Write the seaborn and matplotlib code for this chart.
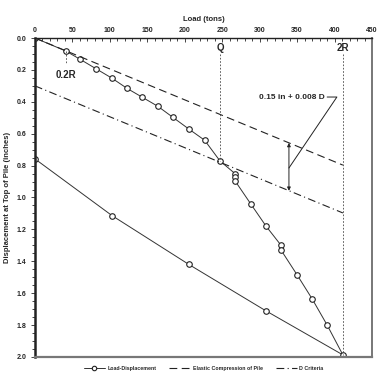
import numpy as np
import pandas as pd
import seaborn as sns
import matplotlib
matplotlib.use("Agg")
import matplotlib.pyplot as plt
from matplotlib.ticker import MultipleLocator

# load test data (tons, inches)
load = [0, 41, 60.5, 82, 102.5, 123, 143.5, 164, 184, 205.5, 226.5, 247,
        267, 267, 267, 288, 308.5, 328.5, 328.5, 350, 370, 390, 411,
        308, 205.5, 103, 0]
disp = [0, 0.081, 0.134, 0.194, 0.251, 0.316, 0.372, 0.428, 0.497, 0.571, 0.641, 0.771,
        0.85, 0.87, 0.895, 1.04, 1.18, 1.30, 1.33, 1.486, 1.636, 1.80, 1.987,
        1.71, 1.42, 1.114, 0.758]

elastic_load = [0, 411]
elastic_disp = [0, 0.797]
offset_load = [0, 411]
offset_disp = [0.30, 1.097]

Q_load = 247
R2_load = 411
R02_load = 41

df = pd.DataFrame({"load": load, "disp": disp})

sns.set_style("white")
plt.rcParams["font.family"] = ["Liberation Sans", "DejaVu Sans"]
plt.rcParams["font.weight"] = "bold"

fig = plt.figure(figsize=(3.84, 3.88), dpi=100)
ax = fig.add_axes([0.091, 0.080, 0.878, 0.822])

sns.lineplot(data=df, x="load", y="disp", sort=False, estimator=None, ax=ax,
             color="#333333", lw=0.7, marker="o", markersize=4,
             markerfacecolor="white", markeredgecolor="#222222", markeredgewidth=0.8,
             label="Load-Displacement")
sns.lineplot(x=elastic_load, y=elastic_disp, ax=ax, color="#222222", lw=0.8,
             linestyle=(0, (7, 4)), label="Elastic Compression of Pile")
sns.lineplot(x=offset_load, y=offset_disp, ax=ax, color="#222222", lw=0.8,
             linestyle=(0, (7, 3, 1, 3)), label="D Criteria")

# reference verticals
ax.plot([Q_load, Q_load], [0.10, 0.771], color="#444444", lw=0.6, ls=(0, (2, 2)))
ax.plot([R2_load, R2_load], [0.10, 1.987], color="#444444", lw=0.6, ls=(0, (2, 2)))
ax.plot([R02_load, R02_load], [0.081, 0.16], color="#444444", lw=0.6, ls=(0, (2, 2)))
ax.text(Q_load, 0.06, "Q", ha="center", va="center", fontsize=7, fontweight="bold")
ax.text(R2_load, 0.06, "2R", ha="center", va="center", fontsize=7, fontweight="bold")
ax.text(R02_load, 0.23, "0.2R", ha="center", va="center", fontsize=7, fontweight="bold")

# offset annotation
ax.annotate("", xy=(339, 0.658), xytext=(339, 0.958),
            arrowprops=dict(arrowstyle="<|-|>", color="#222222", lw=0.7,
                            mutation_scale=5, shrinkA=0, shrinkB=0))
ax.plot([390, 403, 339], [0.37, 0.37, 0.815], color="#222222", lw=0.7)
ax.text(387, 0.37, "0.15 in + 0.008 D", ha="right", va="center", fontsize=6,
        fontweight="bold")

ax.set_xlim(0, 450)
ax.set_ylim(2.0, 0.0)
ax.xaxis.tick_top()
ax.xaxis.set_label_position("top")
ax.xaxis.set_minor_locator(MultipleLocator(10))
ax.yaxis.set_minor_locator(MultipleLocator(0.05))
ax.set_xticks(range(0, 451, 50))
ax.set_yticks(np.arange(0, 2.01, 0.2))
ax.set_yticklabels([f"{v:.1f}" for v in np.arange(0, 2.01, 0.2)])
ax.tick_params(axis="x", which="both", direction="in", top=True, bottom=False,
               labelsize=5, pad=3, length=3, width=0.6)
ax.tick_params(axis="x", which="minor", length=2)
ax.tick_params(axis="y", which="both", direction="out", left=True,
               labelsize=5, pad=3, length=3, width=0.6)
ax.tick_params(axis="y", which="minor", length=2)
ax.set_xlabel("Load (tons)", fontsize=5.5, fontweight="bold", labelpad=4)
ax.set_ylabel("Displacement at Top of Pile (inches)", fontsize=5.5,
              fontweight="bold", labelpad=4)
for lbl in ax.get_xticklabels() + ax.get_yticklabels():
    lbl.set_fontweight("bold")

ax.spines["left"].set_linewidth(1.8)
ax.spines["left"].set_color("#222222")
ax.spines["top"].set_linewidth(1.0)
ax.spines["top"].set_color("#222222")
ax.spines["right"].set_linewidth(1.4)
ax.spines["right"].set_color("#777777")
ax.spines["bottom"].set_linewidth(1.6)
ax.spines["bottom"].set_color("#777777")

ax.legend(loc="upper center", bbox_to_anchor=(0.5, -0.012), ncol=3, frameon=False,
          handlelength=4, columnspacing=2.5, handletextpad=0.4, markerscale=0.8,
          prop={"size": 3.8, "weight": "bold"})

fig.savefig("out.png", dpi=100)
